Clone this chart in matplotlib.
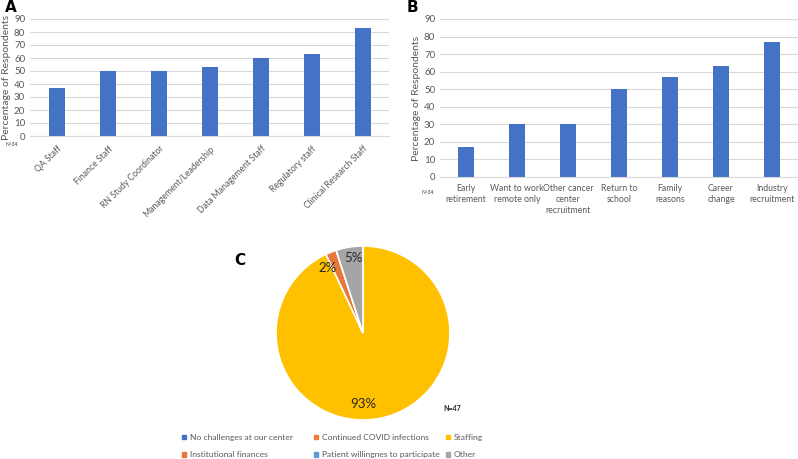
import matplotlib.pyplot as plt
from matplotlib.patches import Patch

plt.rcParams["font.family"] = ["Lato", "DejaVu Sans"]

TXT = "#595959"
GRID = "#D9D9D9"
BLUE = "#4472C4"

# panel A: staff roles
roles = ["QA Staff", "Finance Staff", "RN Study Coordinator", "Management/Leadership",
         "Data Management Staff", "Regulatory staff", "Clinical Research Staff"]
roles_pct = [37, 50, 50, 53, 60, 63, 83]

# panel B: reasons for leaving
reasons = ["Early\nretirement", "Want to work\nremote only", "Other cancer\ncenter\nrecruitment",
           "Return to\nschool", "Family\nreasons", "Career\nchange", "Industry\nrecruitment"]
reasons_pct = [17, 30, 30, 50, 57, 63, 77]

# panel C: challenges
challenges = ["No challenges at our center", "Continued COVID infections", "Staffing",
              "Institutional finances", "Patient willingnes to participate", "Other"]
challenges_pct = [0, 0, 93, 2, 0, 5]
challenge_colors = ["#4472C4", "#ED7D31", "#FFC000", "#E8783A", "#5B9BD5", "#A5A5A5"]

W, H = 798, 459
fig = plt.figure(figsize=(W / 100, H / 100), dpi=100)


def px_axes(x0, y0, x1, y1):
    return fig.add_axes([x0 / W, 1 - y1 / H, (x1 - x0) / W, (y1 - y0) / H])


def style_bar_axes(ax):
    ax.set_ylim(0, 90)
    ax.set_yticks(range(0, 91, 10))
    ax.yaxis.grid(True, color=GRID, linewidth=0.8)
    ax.set_axisbelow(True)
    for s in ["top", "right", "left"]:
        ax.spines[s].set_visible(False)
    ax.spines["bottom"].set_color(GRID)
    ax.tick_params(length=0, colors=TXT, labelsize=7)
    ax.set_ylabel("Percentage of Respondents", color=TXT, fontsize=7.5, labelpad=2)


# A
axA = px_axes(30, 19, 389, 136)
axA.bar(range(len(roles)), roles_pct, width=0.32, color=BLUE)
axA.set_xlim(-0.53, len(roles) - 0.49)
axA.set_xticks(range(len(roles)))
axA.set_xticklabels(roles, rotation=45, ha="right", rotation_mode="anchor")
style_bar_axes(axA)
axA.tick_params(axis="x", labelsize=6.2, pad=6)
fig.text(5 / W, 1 - 12 / H, "A", fontsize=11, fontweight="bold", family="DejaVu Sans")
fig.text(6 / W, 1 - 146 / H, "N=34", fontsize=3.5, color="#333333")

# B
axB = px_axes(440, 19, 798, 177)
axB.bar(range(len(reasons)), reasons_pct, width=0.32, color=BLUE)
axB.set_xlim(-0.51, len(reasons) - 0.49)
axB.set_xticks(range(len(reasons)))
axB.set_xticklabels(reasons, va="top", linespacing=1.3)
style_bar_axes(axB)
axB.tick_params(axis="x", labelsize=6.3, pad=5)
fig.text(407 / W, 1 - 12 / H, "B", fontsize=11, fontweight="bold", family="DejaVu Sans")
fig.text(422 / W, 1 - 194 / H, "N=34", fontsize=3.5, color="#333333")

# C
axC = px_axes(276, 246, 450, 420)
wedges, _, autotexts = axC.pie(
    challenges_pct, colors=challenge_colors, startangle=90, counterclock=False,
    autopct=lambda p: f"{p:.0f}%" if p > 0.5 else "", pctdistance=0.84,
    wedgeprops=dict(edgecolor="white", linewidth=1.2),
    textprops=dict(fontsize=9.5, color="#262626"),
)
# nudge labels like the original layout
autotexts[2].set_x(0)
x3, y3 = autotexts[3].get_position()
autotexts[3].set_position((x3 - 0.1, y3 - 0.03))
x5, y5 = autotexts[5].get_position()
autotexts[5].set_position((x5 + 0.02, y5 + 0.03))
axC.set_xlim(-1, 1)
axC.set_ylim(-1, 1)
axC.set_aspect("equal")
fig.text(234 / W, 1 - 265 / H, "C", fontsize=11, fontweight="bold", family="DejaVu Sans")
fig.text(443 / W, 1 - 411 / H, "N=47", fontsize=5, fontweight="bold", color="#262626")

handles = [Patch(color=c) for c in challenge_colors]
# one legend per column so the columns sit on an even grid
for col, x0 in enumerate([178, 310, 442]):
    idx = [col, col + 3]
    leg = fig.legend([handles[i] for i in idx], [challenges[i] for i in idx],
                     loc="upper left", bbox_to_anchor=(x0 / W, 1 - 430 / H),
                     frameon=False, fontsize=6.1, labelcolor=TXT, handlelength=0.45,
                     handleheight=0.45, handletextpad=0.45,
                     labelspacing=1.2, borderpad=0)

fig.savefig("out.png", dpi=100)
